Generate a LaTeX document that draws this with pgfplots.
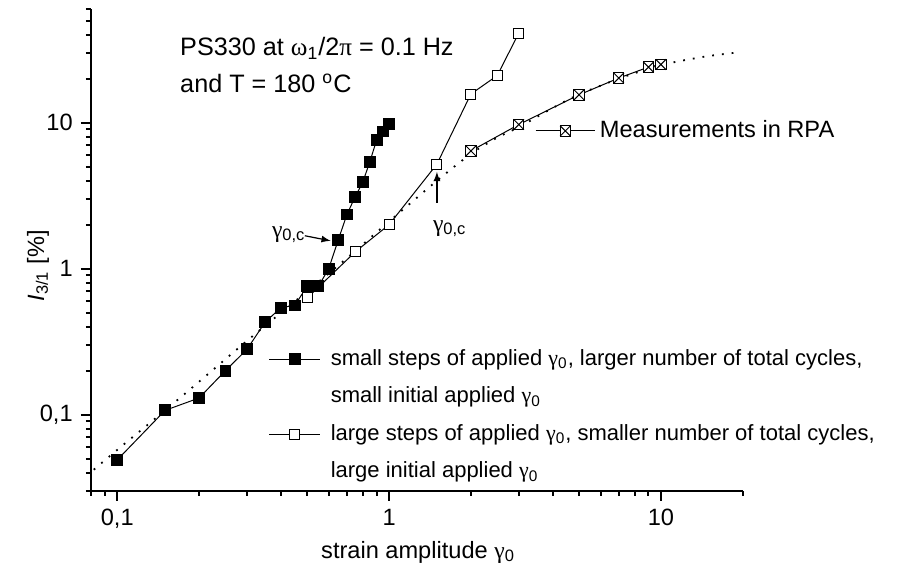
\documentclass[border=0pt]{standalone}
\usepackage{fontspec}
\setmainfont{Liberation Sans}
\newfontfamily\grk{Liberation Serif}
\usepackage{pgfplots}
\pgfplotsset{compat=1.18}
\newcommand{\g}{{\grk γ}}
\pgfdeclareplotmark{sqx}{%
  \pgfpathrectangle{\pgfpoint{-\pgfplotmarksize}{-\pgfplotmarksize}}{\pgfpoint{2\pgfplotmarksize}{2\pgfplotmarksize}}%
  \pgfusepathqfillstroke
  \pgfpathmoveto{\pgfpoint{-\pgfplotmarksize}{-\pgfplotmarksize}}%
  \pgfpathlineto{\pgfpoint{\pgfplotmarksize}{\pgfplotmarksize}}%
  \pgfpathmoveto{\pgfpoint{-\pgfplotmarksize}{\pgfplotmarksize}}%
  \pgfpathlineto{\pgfpoint{\pgfplotmarksize}{-\pgfplotmarksize}}%
  \pgfusepathqstroke
}
\begin{document}
\fontsize{11.8}{14}\selectfont
\begin{tikzpicture}
\useasboundingbox (-45.45pt,-40.5pt) rectangle (410.05pt,245.5pt);
\begin{axis}[
  at={(0,0)}, anchor=south west,
  scale only axis, width=325.9pt, height=241pt,
  xmode=log, ymode=log,
  xmin=0.08, xmax=20, ymin=0.03, ymax=60,
  axis lines=left, axis line style={line width=1.2pt, -},
  tick align=outside,
  major tick length=5pt, minor tick length=2.5pt,
  every tick/.style={black, line width=1pt},
  xtick={0.1,1,10}, xticklabels={{0,1},1,10},
  ytick={0.1,1,10}, yticklabels={{0,1},1,10},
  minor xtick={0.08,0.09,0.2,0.3,0.4,0.5,0.6,0.7,0.8,0.9,2,3,4,5,6,7,8,9,20},
  minor ytick={0.03,0.04,0.05,0.06,0.07,0.08,0.09,0.2,0.3,0.4,0.5,0.6,0.7,0.8,0.9,2,3,4,5,6,7,8,9,20,30,40,50,60},
  xlabel={strain amplitude \g\textsubscript{0}},
  ylabel={\textit{I}\textsubscript{3/1} [\%]},
  xlabel style={at={(axis description cs:0.502,0)}, anchor=north, yshift=-21pt},
  ylabel style={at={(axis description cs:-0.081,0.467)}, anchor=center},
  legend cell align=left,
  legend style={draw=none, fill=none, at={(0.272,0.303)}, anchor=north west,
    inner sep=0pt, row sep=5pt, column sep=3pt, font=\fontsize{11}{13}\selectfont},
  legend image code/.code={%
    \draw[mark repeat=2, mark phase=2] plot coordinates {(0cm,0cm)(0.45cm,0cm)(0.9cm,0cm)};},
]
\addplot[black, line width=0.9pt, dash pattern=on 0.9pt off 4pt, smooth, forget plot] coordinates {
(0.082,0.042) (0.1,0.0574) (0.15,0.107) (0.2,0.168) (0.3,0.32) (0.5,0.70) (0.7,1.18)
(1,2.1) (1.5,4.0) (2,6.1) (2.5,7.9) (3,9.3) (4,12.6) (5,15.6) (7,20.0) (9,23.4)
(10,24.8) (12,26.6) (15,28.6) (19,30.2)};
\addplot[black, line width=0.5pt, mark=square*, mark size=2.7pt, mark options={fill=black}] coordinates {
(0.1,0.049) (0.15,0.107) (0.2,0.13) (0.25,0.2) (0.3,0.28) (0.35,0.43) (0.4,0.54)
(0.45,0.56) (0.5,0.76) (0.55,0.76) (0.6,1.0) (0.65,1.57) (0.7,2.35) (0.75,3.1)
(0.8,3.9) (0.85,5.4) (0.9,7.6) (0.95,8.7) (1.0,9.8)};
\addlegendentry{small steps of applied \g\textsubscript{0}, larger number of total cycles,}
\addlegendimage{empty legend}
\addlegendentry{small initial applied \g\textsubscript{0}}
\addplot[black, line width=0.5pt, mark=square*, mark size=2.5pt, mark options={fill=white}] coordinates {
(0.5,0.63) (0.75,1.3) (1,2.0) (1.5,5.2) (2,15.7) (2.5,21) (3,41)};
\addlegendentry{large steps of applied \g\textsubscript{0}, smaller number of total cycles,}
\addlegendimage{empty legend}
\addlegendentry{large initial applied \g\textsubscript{0}}
\node[anchor=west, font=\fontsize{12.6}{15}\selectfont] at (axis description cs:0.1244,0.919) {PS330 at {\grk ω}\textsubscript{1}/2{\grk π} = 0.1 Hz};
\node[anchor=west, font=\fontsize{12.6}{15}\selectfont] at (axis description cs:0.1244,0.846) {and T = 180 \textsuperscript{o}C};
\draw[-latex, line width=0.6pt] (axis cs:0.49,1.68) -- (axis cs:0.61,1.55);
\node at (axis cs:0.4276,1.707) {\g\textsubscript{0,c}};
\draw[-latex, line width=0.6pt] (axis cs:1.5,2.82) -- (axis cs:1.5,4.6);
\node at (axis cs:1.672,1.876) {\g\textsubscript{0,c}};
\end{axis}
\begin{axis}[
  at={(0,0)}, anchor=south west,
  scale only axis, width=325.9pt, height=241pt,
  xmode=log, ymode=log,
  xmin=0.08, xmax=20, ymin=0.03, ymax=60,
  hide axis,
  legend style={draw=none, fill=none, at={(0.681,0.747)}, anchor=west, inner sep=0pt},
  legend image code/.code={%
    \draw[mark repeat=2, mark phase=2] plot coordinates {(0cm,0cm)(0.52cm,0cm)(1.05cm,0cm)};},
]
\addplot[black, line width=0.5pt, mark=sqx, mark size=2.6pt, mark options={fill=white}] coordinates {
(2,6.4) (3,9.7) (5,15.5) (7,20.2) (9,24) (10,25)};
\addlegendentry{Measurements in RPA}
\end{axis}
\end{tikzpicture}
\end{document}
